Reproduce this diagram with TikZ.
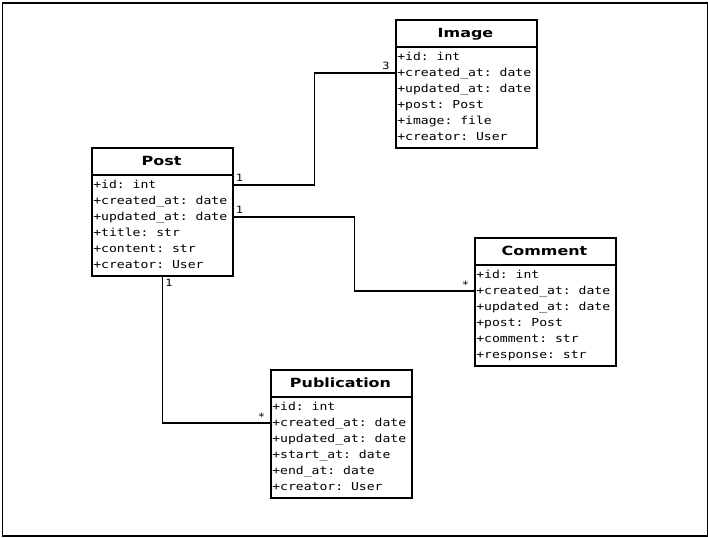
\documentclass[tikz,border=0pt]{standalone}
\usepackage{fontspec}
\setmainfont{DejaVu Sans}[FakeStretch=1.26]
\setmonofont{DejaVu Sans Mono}[FakeStretch=1.19]
\usetikzlibrary{positioning,calc}
\tikzset{
  classbox/.style={draw,line width=1.125pt,rectangle,anchor=north west,minimum width=105.75pt,minimum height=96pt,inner sep=0pt},
  classtitle/.style={font=\bfseries\fontsize{9.5pt}{11pt}\selectfont,anchor=base,inner sep=0pt},
  attrs/.style={font=\ttfamily\fontsize{8.25pt}{12pt}\selectfont,align=left,anchor=north west,inner sep=0pt},
  conn/.style={line width=1.125pt},
  mult/.style={font=\ttfamily\fontsize{7.5pt}{8pt}\selectfont,inner sep=0pt}
}
\begin{document}
\begin{tikzpicture}[x=0.75pt,y=-0.75pt]
\useasboundingbox (0,0) rectangle (708,537);
\node[draw,line width=1.125pt,rectangle,anchor=north west,minimum width=528.75pt,minimum height=399.75pt,inner sep=0pt] (frame) at (2,2) {};
% Post
\node[classbox] (post) at (91,147) {};
\draw[line width=1.125pt] ([yshift=-21pt]post.north west) -- ([yshift=-21pt]post.north east);
\node[classtitle] (postt) at (161.5,165) {Post};
\node[attrs] (posta) at (93,179.5) {+id: int\\+created\_at: date\\+updated\_at: date\\+title: str\\+content: str\\+creator: User};
% Image
\node[classbox] (image) at (395,19) {};
\draw[line width=1.125pt] ([yshift=-21pt]image.north west) -- ([yshift=-21pt]image.north east);
\node[classtitle] (imaget) at (465.5,37) {Image};
\node[attrs] (imagea) at (397,51.5) {+id: int\\+created\_at: date\\+updated\_at: date\\+post: Post\\+image: file\\+creator: User};
% Comment
\node[classbox] (comment) at (474,237) {};
\draw[line width=1.125pt] ([yshift=-21pt]comment.north west) -- ([yshift=-21pt]comment.north east);
\node[classtitle] (commentt) at (544.5,255) {Comment};
\node[attrs] (commenta) at (476,269.5) {+id: int\\+created\_at: date\\+updated\_at: date\\+post: Post\\+comment: str\\+response: str};
% Publication
\node[classbox] (pub) at (270,369) {};
\draw[line width=1.125pt] ([yshift=-21pt]pub.north west) -- ([yshift=-21pt]pub.north east);
\node[classtitle] (pubt) at (340.5,387) {Publication};
\node[attrs] (puba) at (272,401.5) {+id: int\\+created\_at: date\\+updated\_at: date\\+start\_at: date\\+end\_at: date\\+creator: User};
% connectors
\draw[conn] ([yshift=-28.5pt]post.north east) -- ++(81,0) |- ([yshift=-40.5pt]image.north west);
\draw[conn] ([yshift=-52.5pt]post.north east) -- ++(121,0) |- ([yshift=-40.5pt]comment.north west);
\draw[conn] (post.south) |- ([yshift=-40.5pt]pub.north west);
% multiplicities
\node[mult] (m1) at (239.5,177.5) {1};
\node[mult] (m2) at (386,65.5) {3};
\node[mult] (m3) at (239.5,209.5) {1};
\node[mult] (m4) at (465.5,285) {*};
\node[mult] (m5) at (169,282.5) {1};
\node[mult] (m6) at (261.5,417) {*};
\end{tikzpicture}
\end{document}
